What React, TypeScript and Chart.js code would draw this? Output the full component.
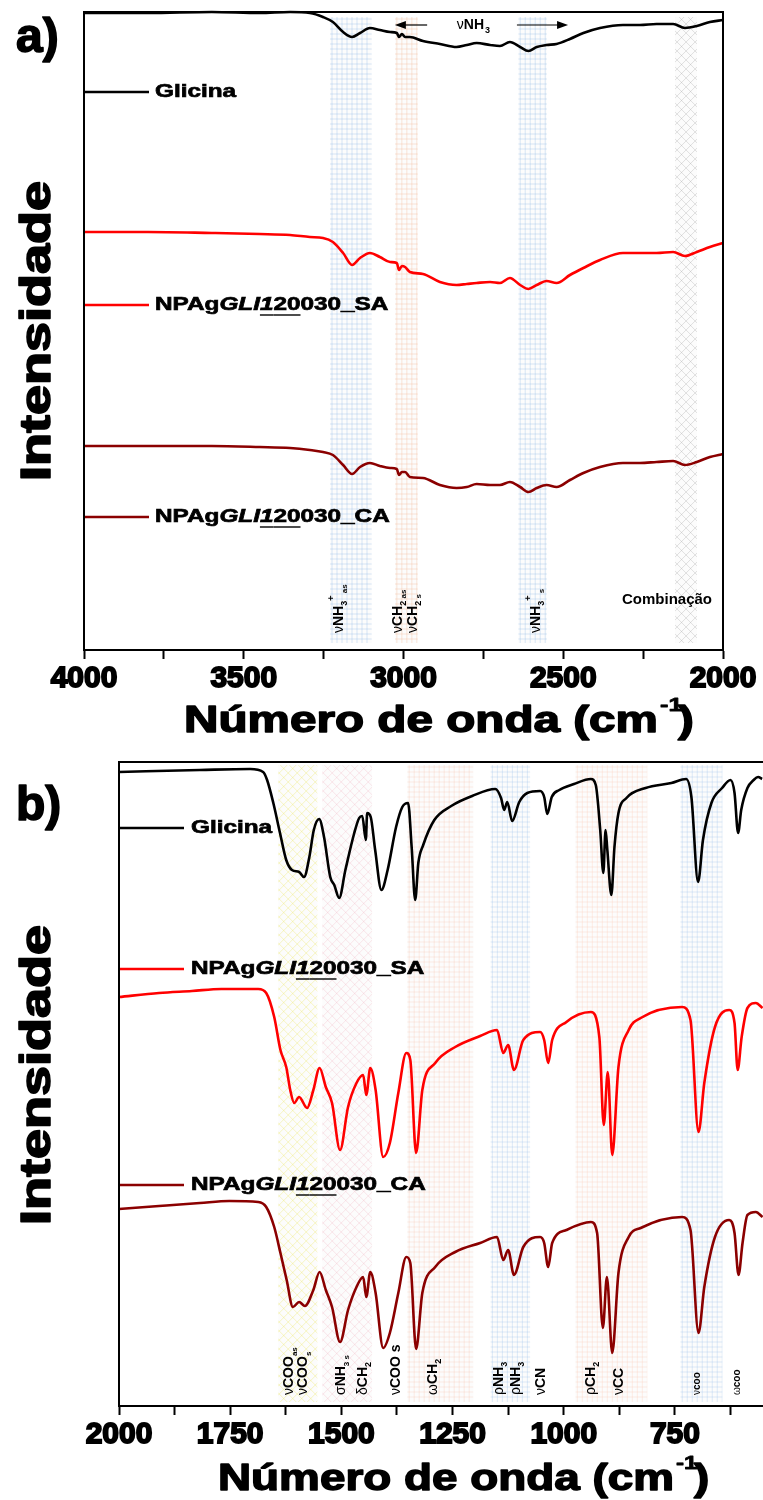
import React, { useEffect, useRef } from 'react';
import { Chart, registerables } from 'chart.js';

Chart.register(...registerables);

const FONT = '"Liberation Sans", Arial, Helvetica, sans-serif';

// ---------- Panel a (4000-2000 cm-1), intensities in arbitrary units ----------
const WN_A = [4000, 3800, 3600, 3450, 3355, 3293, 3252, 3221, 3189, 3161, 3136, 3105, 3074, 3042, 3021, 3014, 3005, 2995, 2980, 2939, 2886, 2834, 2802, 2771, 2729, 2698, 2667, 2635, 2609, 2583, 2552, 2521, 2479, 2437, 2385, 2313, 2260, 2208, 2156, 2119, 2082, 2041, 2000];
const GLICINA_A = [637, 637, 638, 637, 638, 637, 633, 628, 618, 613, 617, 622, 620, 618, 617, 613, 616, 613, 613, 609, 606, 603, 605, 607, 605, 604, 608, 603, 599, 603, 605, 606, 611, 617, 622, 625, 625, 626, 626, 622, 624, 628, 630];
const SA_A = [418, 418, 417, 416, 415, 413, 412, 408, 397, 385, 392, 397, 393, 388, 387, 380, 384, 383, 378, 376, 368, 365, 366, 367, 368, 367, 372, 365, 361, 365, 369, 367, 375, 382, 390, 397, 397, 397, 398, 394, 398, 403, 407];
const CA_A = [204, 204, 204, 203, 202, 200, 198, 195, 185, 176, 183, 187, 184, 182, 181, 175, 178, 178, 173, 172, 165, 162, 163, 166, 165, 165, 168, 163, 158, 162, 165, 163, 170, 177, 183, 187, 187, 188, 189, 185, 188, 193, 196];

// ---------- Panel b (2000-550 cm-1) ----------
const WN_B_GLI = [2000, 1818, 1705, 1676, 1667, 1653, 1638, 1624, 1611, 1595, 1584, 1572, 1562, 1550, 1539, 1525, 1516, 1505, 1491, 1471, 1460, 1453, 1445, 1442, 1434, 1424, 1410, 1396, 1377, 1363, 1350, 1342, 1334, 1327, 1316, 1291, 1253, 1206, 1154, 1141, 1134, 1127, 1116, 1100, 1082, 1053, 1044, 1037, 1027, 1010, 977, 939, 928, 918, 911, 906, 902, 893, 886, 877, 859, 816, 758, 725, 713, 698, 687, 668, 644, 625, 616, 608, 601, 587, 573, 563, 554];
const GLICINA_B = [634, 636, 637, 634, 626, 603, 573, 546, 536, 534, 529, 549, 576, 587, 569, 529, 521, 508, 536, 573, 588, 590, 566, 593, 589, 556, 516, 536, 579, 599, 603, 559, 506, 543, 561, 586, 600, 610, 617, 608, 596, 604, 585, 604, 613, 615, 609, 592, 609, 616, 622, 627, 621, 576, 533, 576, 556, 511, 559, 593, 608, 618, 623, 627, 609, 524, 566, 603, 618, 626, 613, 573, 596, 618, 626, 629, 627];
const WN_B_SA = [2000, 1910, 1836, 1770, 1687, 1669, 1651, 1637, 1624, 1615, 1606, 1595, 1577, 1563, 1549, 1535, 1521, 1503, 1485, 1466, 1451, 1444, 1435, 1423, 1406, 1391, 1372, 1354, 1345, 1332, 1318, 1289, 1244, 1188, 1150, 1136, 1125, 1112, 1091, 1053, 1044, 1035, 1026, 994, 939, 920, 910, 901, 891, 877, 854, 827, 734, 715, 697, 684, 660, 628, 616, 609, 600, 587, 568, 553];
const SA_B = [409, 413, 415, 417, 417, 413, 389, 356, 339, 316, 303, 309, 298, 316, 338, 319, 303, 256, 299, 323, 331, 311, 338, 316, 249, 263, 313, 353, 346, 253, 316, 343, 359, 370, 376, 353, 361, 336, 366, 374, 366, 343, 366, 384, 394, 369, 281, 334, 251, 339, 376, 388, 399, 386, 274, 323, 379, 396, 383, 336, 369, 398, 403, 398];
const WN_B_CA = [2000, 1910, 1818, 1752, 1687, 1669, 1651, 1637, 1623, 1609, 1595, 1582, 1563, 1549, 1535, 1521, 1503, 1485, 1466, 1451, 1444, 1435, 1423, 1406, 1391, 1372, 1354, 1345, 1332, 1318, 1289, 1244, 1188, 1150, 1136, 1125, 1112, 1091, 1053, 1044, 1035, 1026, 994, 939, 925, 912, 903, 891, 877, 854, 827, 734, 715, 697, 684, 660, 628, 616, 607, 598, 587, 568, 553];
const CA_B = [197, 200, 203, 205, 204, 199, 179, 153, 126, 99, 104, 100, 116, 134, 116, 99, 64, 96, 119, 129, 109, 134, 113, 58, 73, 113, 149, 143, 57, 113, 139, 154, 163, 169, 146, 156, 131, 159, 169, 163, 139, 163, 176, 184, 173, 78, 129, 53, 133, 169, 178, 189, 176, 73, 119, 169, 186, 173, 131, 163, 191, 194, 189];

// ---------- axes ----------
const X_TICKS_A = [4000, 3750, 3500, 3250, 3000, 2750, 2500, 2250, 2000];
const X_LABELS_A = [4000, 3500, 3000, 2500, 2000];
const X_TICKS_B = [2000, 1875, 1750, 1625, 1500, 1375, 1250, 1125, 1000, 875, 750, 625];
const X_LABELS_B = [2000, 1750, 1500, 1250, 1000, 750];

const SERIES = ['Glicina', 'NPAgGLI120030_SA', 'NPAgGLI120030_CA'];
const COLORS = ['#000000', '#ff0000', '#8b0000'];

// ---------- highlighted bands (wavenumber ranges) ----------
const BANDS_A = [
  { from: 3230, to: 3099, kind: 'grid', color: 'rgba(120,170,225,0.35)' },
  { from: 3027, to: 2955, kind: 'grid', color: 'rgba(240,165,120,0.35)' },
  { from: 2641, to: 2551, kind: 'grid', color: 'rgba(120,170,225,0.35)' },
  { from: 2150, to: 2081, kind: 'hatch', color: 'rgba(150,150,150,0.35)' },
];
const BANDS_B = [
  { from: 1642, to: 1554, kind: 'hatch', color: 'rgba(235,230,90,0.45)' },
  { from: 1543, to: 1431, kind: 'hatch', color: 'rgba(235,160,180,0.35)' },
  { from: 1352, to: 1203, kind: 'grid', color: 'rgba(245,180,150,0.30)' },
  { from: 1165, to: 1075, kind: 'grid', color: 'rgba(120,170,225,0.30)' },
  { from: 974, to: 812, kind: 'grid', color: 'rgba(245,180,150,0.30)' },
  { from: 738, to: 643, kind: 'grid', color: 'rgba(120,170,225,0.30)' },
];

type Seg = { t: string; size?: number; w?: string; dy?: number };
const B = (t: string, size = 14): Seg => ({ t, size, w: 'bold' });
const G = (t: string, size = 14): Seg => ({ t, size, w: 'normal' });
const SUB = (t: string, size = 9): Seg => ({ t, size, w: 'bold', dy: 4 });
const SUP = (t: string, size = 9): Seg => ({ t, size, w: 'bold', dy: -9 });

const LABELS_A: { wn: number; segs: Seg[] }[] = [
  { wn: 3205, segs: [G('ν'), B('NH'), SUB('3'), SUP('+'), SUB(' as', 8)] },
  { wn: 3020, segs: [G('ν'), B('CH'), SUB('2'), SUB(' as', 8)] },
  { wn: 2973, segs: [G('ν'), B('CH'), SUB('2'), SUB(' s', 8)] },
  { wn: 2588, segs: [G('ν'), B('NH'), SUB('3'), SUP('+'), SUB(' s', 8)] },
];
const LABELS_B: { wn: number; segs: Seg[] }[] = [
  { wn: 1620, segs: [G('ν'), B('COO'), SUB('as', 8)] },
  { wn: 1588, segs: [G('ν'), B('COO'), SUB('s', 8)] },
  { wn: 1503, segs: [G('σ'), B('NH'), SUB('3 s', 8)] },
  { wn: 1453, segs: [G('δ'), B('CH'), SUB('2')] },
  { wn: 1379, segs: [G('ν'), B('COO s')] },
  { wn: 1296, segs: [G('ω'), B('CH'), SUB('2')] },
  { wn: 1147, segs: [G('ρ'), B('NH'), SUB('3')] },
  { wn: 1109, segs: [G('ρ'), B('NH'), SUB('3')] },
  { wn: 1053, segs: [G('ν'), B('CN')] },
  { wn: 940, segs: [G('ρ'), B('CH'), SUB('2')] },
  { wn: 879, segs: [G('ν'), B('CC')] },
  { wn: 704, segs: [G('ν', 10), B('coo', 10)] },
  { wn: 614, segs: [G('ω', 10), B('coo', 10)] },
];

function drawBand(ctx: CanvasRenderingContext2D, x0: number, x1: number, y0: number, y1: number, kind: string, color: string) {
  const l = Math.min(x0, x1), r = Math.max(x0, x1);
  ctx.save();
  ctx.beginPath();
  ctx.rect(l, y0, r - l, y1 - y0);
  ctx.clip();
  ctx.fillStyle = 'rgba(250,250,250,0.6)';
  ctx.fillRect(l, y0, r - l, y1 - y0);
  ctx.strokeStyle = color;
  ctx.lineWidth = 0.8;
  ctx.beginPath();
  if (kind === 'grid') {
    for (let x = l + 2; x < r; x += 5) { ctx.moveTo(x, y0); ctx.lineTo(x, y1); }
    for (let y = y0 + 2; y < y1; y += 5) { ctx.moveTo(l, y); ctx.lineTo(r, y); }
  } else {
    const h = y1 - y0;
    for (let x = l - h; x < r + h; x += 9) {
      ctx.moveTo(x, y0); ctx.lineTo(x + h, y1);
      ctx.moveTo(x, y1); ctx.lineTo(x + h, y0);
    }
  }
  ctx.stroke();
  ctx.restore();
}

function rotLabel(ctx: CanvasRenderingContext2D, xBase: number, yBottom: number, segs: Seg[]) {
  ctx.save();
  ctx.translate(xBase, yBottom);
  ctx.rotate(-Math.PI / 2);
  ctx.textAlign = 'left';
  ctx.textBaseline = 'alphabetic';
  ctx.fillStyle = '#000';
  let cx = 0;
  for (const s of segs) {
    ctx.font = `${s.w ?? 'bold'} ${s.size ?? 14}px ${FONT}`;
    ctx.fillText(s.t, cx, s.dy ?? 0);
    cx += ctx.measureText(s.t).width;
  }
  ctx.restore();
}

function wideText(ctx: CanvasRenderingContext2D, text: string, x: number, y: number, size: number, sx: number, stroke = 1, baseline: CanvasTextBaseline = 'alphabetic') {
  ctx.save();
  ctx.translate(x, y);
  ctx.scale(sx, 1);
  ctx.font = `bold ${size}px ${FONT}`;
  ctx.textAlign = 'left';
  ctx.textBaseline = baseline;
  ctx.fillStyle = '#000';
  ctx.fillText(text, 0, 0);
  if (stroke > 0) { ctx.lineWidth = stroke; ctx.strokeStyle = '#000'; ctx.lineJoin = 'round'; ctx.strokeText(text, 0, 0); }
  const w = ctx.measureText(text).width * sx;
  ctx.restore();
  return w;
}

function xTitle(ctx: CanvasRenderingContext2D, x: number, baseline: number, target: number) {
  const main = 'Número de onda (cm';
  ctx.save();
  ctx.font = `bold 36px ${FONT}`;
  const sx = target / ctx.measureText(main).width;
  ctx.restore();
  const w = wideText(ctx, main, x, baseline, 36, sx, 1.4);
  wideText(ctx, '-1', x + w + 2, baseline - 21, 19, sx, 0.8);
  wideText(ctx, ')', x + w + 20, baseline, 36, sx, 1.4);
}

function yTitle(ctx: CanvasRenderingContext2D, xBase: number, yCenter: number, length: number) {
  const t = 'Intensidade';
  ctx.save();
  ctx.font = `bold 43px ${FONT}`;
  const sx = length / ctx.measureText(t).width;
  ctx.restore();
  ctx.save();
  ctx.translate(xBase, yCenter + length / 2);
  ctx.rotate(-Math.PI / 2);
  wideText(ctx, t, 0, 0, 43, sx, 1.6);
  ctx.restore();
}

function legendEntry(ctx: CanvasRenderingContext2D, i: number, x0: number, x1: number, tx: number, y: number) {
  ctx.save();
  ctx.strokeStyle = COLORS[i];
  ctx.lineWidth = 2.6;
  ctx.beginPath();
  ctx.moveTo(x0, y); ctx.lineTo(x1, y); ctx.stroke();
  ctx.restore();
  const name = SERIES[i];
  const sx = 1.28;
  const size = 19;
  ctx.save();
  ctx.translate(tx, y);
  ctx.scale(sx, 1);
  ctx.textBaseline = 'middle';
  ctx.fillStyle = '#000';
  ctx.strokeStyle = '#000';
  ctx.lineWidth = 0.7;
  if (i === 0) {
    ctx.font = `bold ${size}px ${FONT}`;
    ctx.fillText(name, 0, 0); ctx.strokeText(name, 0, 0);
  } else {
    const m = name.match(/^(NPAg)(GLI)(1)(20)(.*)$/)!;
    const parts = [
      { t: m[1], it: false, u: false },
      { t: m[2], it: true, u: false },
      { t: m[3], it: true, u: true },
      { t: m[4], it: false, u: true },
      { t: m[5], it: false, u: false },
    ];
    let cx = 0;
    for (const p of parts) {
      ctx.font = `${p.it ? 'italic ' : ''}bold ${size}px ${FONT}`;
      ctx.fillText(p.t, cx, 0); ctx.strokeText(p.t, cx, 0);
      const w = ctx.measureText(p.t).width;
      if (p.u) {
        ctx.save(); ctx.lineWidth = 1.4; ctx.beginPath();
        ctx.moveTo(cx, 10); ctx.lineTo(cx + w, 10); ctx.stroke(); ctx.restore();
      }
      cx += w;
    }
  }
  ctx.restore();
}

function arrow(ctx: CanvasRenderingContext2D, xFrom: number, xTo: number, y: number) {
  const dir = Math.sign(xTo - xFrom);
  ctx.save();
  ctx.strokeStyle = '#000';
  ctx.fillStyle = '#000';
  ctx.lineWidth = 1.2;
  ctx.beginPath();
  ctx.moveTo(xFrom, y); ctx.lineTo(xTo - dir * 8, y); ctx.stroke();
  ctx.beginPath();
  ctx.moveTo(xTo, y); ctx.lineTo(xTo - dir * 11, y - 4); ctx.lineTo(xTo - dir * 11, y + 4); ctx.closePath(); ctx.fill();
  ctx.restore();
}

function decorA() {
  return {
    id: 'decorA',
    beforeDatasetsDraw(chart: any) {
      const { ctx, scales: { x } } = chart;
      for (const b of BANDS_A) drawBand(ctx, x.getPixelForValue(b.from), x.getPixelForValue(b.to), 17, 643, b.kind, b.color);
    },
    afterDraw(chart: any) {
      const { ctx, chartArea: ca, scales: { x } } = chart;
      ctx.save();
      ctx.strokeStyle = '#000'; ctx.lineWidth = 2;
      ctx.strokeRect(ca.left, ca.top, ca.right - ca.left, ca.bottom - ca.top);
      ctx.restore();
      wideText(ctx, 'a)', 16, 52, 48, 1.0, 1.6);
      const ly = [92, 305, 517];
      ly.forEach((y, i) => legendEntry(ctx, i, ca.left + 1, 149, 155, y));
      // vNH3 range annotation
      ctx.save();
      ctx.fillStyle = '#000';
      ctx.textBaseline = 'middle';
      let tx = x.getPixelForValue(2833);
      ctx.font = `normal 14px ${FONT}`; ctx.fillText('ν', tx, 25); tx += ctx.measureText('ν').width;
      ctx.font = `bold 14px ${FONT}`; ctx.fillText('NH', tx, 25); tx += ctx.measureText('NH').width;
      ctx.font = `bold 9px ${FONT}`; ctx.fillText('3', tx + 1, 31);
      ctx.restore();
      arrow(ctx, x.getPixelForValue(2926), x.getPixelForValue(3027), 25);
      arrow(ctx, x.getPixelForValue(2645), x.getPixelForValue(2485), 25);
      for (const l of LABELS_A) rotLabel(ctx, x.getPixelForValue(l.wn) + 5, 633, l.segs);
      ctx.save();
      ctx.font = `bold 15px ${FONT}`; ctx.fillStyle = '#000'; ctx.textBaseline = 'alphabetic';
      ctx.fillText('Combinação', 622, 604);
      ctx.restore();
      yTitle(ctx, 50, 331, 300);
      xTitle(ctx, 184, 732, 474);
    },
  };
}

function decorB() {
  return {
    id: 'decorB',
    beforeDatasetsDraw(chart: any) {
      const { ctx, chartArea: ca, scales: { x } } = chart;
      for (const b of BANDS_B) drawBand(ctx, x.getPixelForValue(b.from), x.getPixelForValue(b.to), ca.top + 3, ca.bottom - 4, b.kind, b.color);
    },
    afterDraw(chart: any) {
      const { ctx, chartArea: ca, scales: { x } } = chart;
      ctx.save();
      ctx.strokeStyle = '#000'; ctx.lineWidth = 2;
      ctx.beginPath();
      ctx.moveTo(ca.left, ca.bottom); ctx.lineTo(ca.left, ca.top); ctx.lineTo(ca.right + 2, ca.top);
      ctx.stroke();
      ctx.restore();
      wideText(ctx, 'b)', 16, 75, 48, 1.0, 1.6);
      const ly = [83, 224, 440];
      ly.forEach((y, i) => legendEntry(ctx, i, ca.left + 1, 184, 191, y));
      for (const l of LABELS_B) rotLabel(ctx, x.getPixelForValue(l.wn) + 5, 650, l.segs);
      yTitle(ctx, 50, 330, 300);
      xTitle(ctx, 218, 745, 456);
    },
  };
}

function series(wn: number[], vals: number[], i: number) {
  return {
    label: SERIES[i],
    data: wn.map((w, k) => ({ x: w, y: vals[k] })),
    borderColor: COLORS[i],
    backgroundColor: COLORS[i],
    borderWidth: 2.6,
    pointRadius: 0,
    cubicInterpolationMode: 'monotone',
    clip: 4,
  };
}

function xScale(min: number, max: number, ticks: number[], labels: number[], height: number) {
  return {
    type: 'linear',
    reverse: true,
    min, max,
    afterBuildTicks: (s: any) => { s.ticks = ticks.map((v) => ({ value: v })); },
    afterFit: (s: any) => { s.height = height; },
    ticks: {
      autoSkip: false,
      maxRotation: 0,
      minRotation: 0,
      padding: 2,
      color: '#000',
      font: { family: FONT, size: 30, weight: 'bold' },
      textStrokeColor: '#000',
      textStrokeWidth: 1.8,
      callback: (v: number) => (labels.includes(v) ? String(v) : ''),
    },
    grid: { drawOnChartArea: false, drawTicks: true, tickLength: 9, tickWidth: 2, tickColor: '#000' },
    border: { display: true, color: '#000', width: 2 },
  };
}

function baseOptions(pad: any, xs: any, ymax: number) {
  return {
    responsive: false,
    animation: false,
    devicePixelRatio: 1,
    layout: { padding: pad },
    plugins: { legend: { display: false }, tooltip: { enabled: false }, title: { display: false } },
    scales: { x: xs, y: { display: false, min: 0, max: ymax } },
    elements: { line: { tension: 0 } },
  };
}

export default function App() {
  const refA = useRef<HTMLCanvasElement>(null);
  const refB = useRef<HTMLCanvasElement>(null);
  useEffect(() => {
    Chart.defaults.font.family = FONT;
    const a = new Chart(refA.current as HTMLCanvasElement, {
      type: 'line',
      data: { datasets: [series(WN_A, GLICINA_A, 0), series(WN_A, SA_A, 1), series(WN_A, CA_A, 2)] } as any,
      options: baseOptions({ left: 84, right: 40, top: 12, bottom: 0 }, xScale(2000, 4000, X_TICKS_A, X_LABELS_A, 95), 638) as any,
      plugins: [decorA()],
    });
    const b = new Chart(refB.current as HTMLCanvasElement, {
      type: 'line',
      data: { datasets: [series(WN_B_GLI, GLICINA_B, 0), series(WN_B_SA, SA_B, 1), series(WN_B_CA, CA_B, 2)] } as any,
      options: baseOptions({ left: 119, right: 0, top: 17, bottom: 0 }, xScale(552, 2000, X_TICKS_B, X_LABELS_B, 94), 644) as any,
      plugins: [decorB()],
    });
    return () => { a.destroy(); b.destroy(); };
  }, []);
  return (
    <div style={{ position: 'absolute', left: 0, top: 0, width: 763, height: 1500, background: '#fff', overflow: 'hidden' }}>
      <canvas ref={refA} width={763} height={745} style={{ display: 'block', width: 763, height: 745 }} />
      <canvas ref={refB} width={763} height={755} style={{ display: 'block', width: 763, height: 755 }} />
    </div>
  );
}
